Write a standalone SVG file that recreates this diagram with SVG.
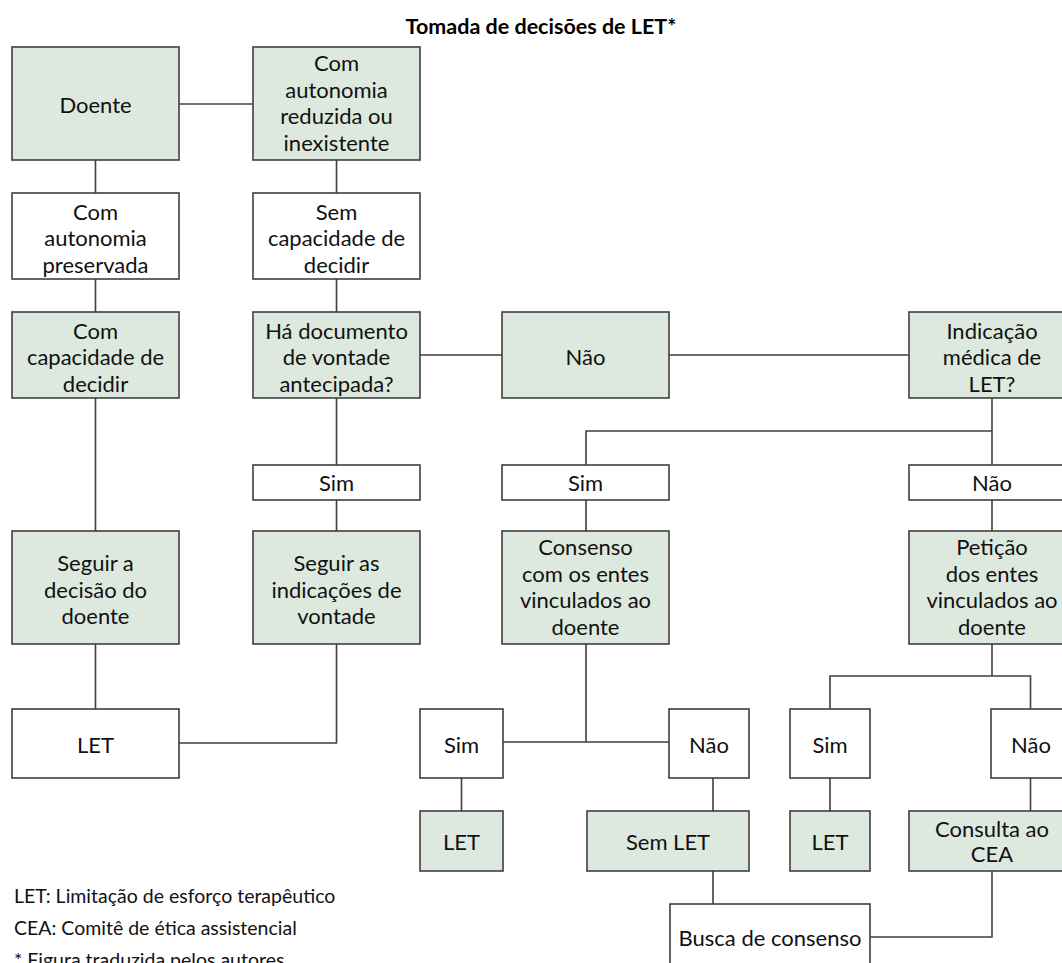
<svg xmlns="http://www.w3.org/2000/svg" width="1062" height="963" viewBox="0 0 1062 963">
<style>
.b{stroke:#3f3f3f;stroke-width:1.6;}
.g{fill:#dde9df;}
.w{fill:#ffffff;}
.t{font-family:Lato,"Liberation Sans",sans-serif;font-size:22px;fill:#111;text-anchor:middle;}
.c{stroke:#3f3f3f;stroke-width:1.6;fill:none;}
.title{font-family:Lato,"Liberation Sans",sans-serif;font-size:21.5px;font-weight:bold;fill:#000;text-anchor:middle;}
.note{font-family:Lato,"Liberation Sans",sans-serif;font-size:19.5px;fill:#111;}
</style>
<rect x="0" y="0" width="1062" height="963" fill="#ffffff"/>
<text class="title" x="541" y="34">Tomada de decisões de LET*</text>
<g id="connectors">
<path class="c" d="M179 104H253"/>
<path class="c" d="M95.5 160V193M95.5 279V312M95.5 398V531M95.5 644V709"/>
<path class="c" d="M336.5 160V193M336.5 279V312M336.5 398V465M336.5 500V531M336.5 644V743H179"/>
<path class="c" d="M420 355H502M669 355H909"/>
<path class="c" d="M992 398V465M992 431H586V465M586 500V531M992 500V531"/>
<path class="c" d="M586 644V742M503 742H669"/>
<path class="c" d="M461.5 778V811M713 778V811M713 871V904"/>
<path class="c" d="M992 644V676M830 709V676H1030.5V709M830 778V811M1030.5 778V811"/>
<path class="c" d="M992 871V937H870"/>
</g>
<g id="n1"><rect class="b g" x="12" y="47" width="167" height="113"/><text class="t" x="95.5" y="113">Doente</text></g>
<g id="n2"><rect class="b g" x="253" y="47" width="167" height="113"/><text class="t" x="336.5"><tspan x="336.5" y="71">Com</tspan><tspan x="336.5" y="97.5">autonomia</tspan><tspan x="336.5" y="124">reduzida ou</tspan><tspan x="336.5" y="150.5">inexistente</tspan></text></g>
<g id="n3"><rect class="b w" x="12" y="193" width="167" height="86"/><text class="t"><tspan x="95.5" y="220">Com</tspan><tspan x="95.5" y="246">autonomia</tspan><tspan x="95.5" y="272.5">preservada</tspan></text></g>
<g id="n4"><rect class="b w" x="253" y="193" width="167" height="86"/><text class="t"><tspan x="336.5" y="220">Sem</tspan><tspan x="336.5" y="246">capacidade de</tspan><tspan x="336.5" y="272.5">decidir</tspan></text></g>
<g id="n5"><rect class="b g" x="12" y="312" width="167" height="86"/><text class="t"><tspan x="95.5" y="339">Com</tspan><tspan x="95.5" y="365">capacidade de</tspan><tspan x="95.5" y="391.5">decidir</tspan></text></g>
<g id="n6"><rect class="b g" x="253" y="312" width="167" height="86"/><text class="t"><tspan x="336.5" y="339">Há documento</tspan><tspan x="336.5" y="365">de vontade</tspan><tspan x="336.5" y="391.5">antecipada?</tspan></text></g>
<g id="n7"><rect class="b g" x="502" y="312" width="167" height="86"/><text class="t" x="585.5" y="365">Não</text></g>
<g id="n8"><rect class="b g" x="909" y="312" width="167" height="86"/><text class="t"><tspan x="992" y="339">Indicação</tspan><tspan x="992" y="365">médica de</tspan><tspan x="992" y="391.5">LET?</tspan></text></g>
<g id="n9"><rect class="b w" x="253" y="465" width="167" height="35"/><text class="t" x="336.5" y="491">Sim</text></g>
<g id="n10"><rect class="b w" x="502" y="465" width="167" height="35"/><text class="t" x="585.5" y="491">Sim</text></g>
<g id="n11"><rect class="b w" x="909" y="465" width="167" height="35"/><text class="t" x="992" y="491">Não</text></g>
<g id="n12"><rect class="b g" x="12" y="531" width="167" height="113"/><text class="t"><tspan x="95.5" y="571">Seguir a</tspan><tspan x="95.5" y="597.5">decisão do</tspan><tspan x="95.5" y="623.5">doente</tspan></text></g>
<g id="n13"><rect class="b g" x="253" y="531" width="167" height="113"/><text class="t"><tspan x="336.5" y="571">Seguir as</tspan><tspan x="336.5" y="597.5">indicações de</tspan><tspan x="336.5" y="623.5">vontade</tspan></text></g>
<g id="n14"><rect class="b g" x="502" y="531" width="167" height="113"/><text class="t"><tspan x="585.5" y="555">Consenso</tspan><tspan x="585.5" y="581.5">com os entes</tspan><tspan x="585.5" y="608">vinculados ao</tspan><tspan x="585.5" y="634.5">doente</tspan></text></g>
<g id="n15"><rect class="b g" x="909" y="531" width="167" height="113"/><text class="t"><tspan x="992" y="555">Petição</tspan><tspan x="992" y="581.5">dos entes</tspan><tspan x="992" y="608">vinculados ao</tspan><tspan x="992" y="634.5">doente</tspan></text></g>
<g id="n16"><rect class="b w" x="12" y="709" width="167" height="69"/><text class="t" x="95.5" y="753">LET</text></g>
<g id="n17"><rect class="b w" x="420" y="709" width="83" height="69"/><text class="t" x="461.5" y="753">Sim</text></g>
<g id="n18"><rect class="b w" x="669" y="709" width="80" height="69"/><text class="t" x="709" y="753">Não</text></g>
<g id="n19"><rect class="b w" x="790" y="709" width="80" height="69"/><text class="t" x="830" y="753">Sim</text></g>
<g id="n20"><rect class="b w" x="991" y="709" width="80" height="69"/><text class="t" x="1031" y="753">Não</text></g>
<g id="n21"><rect class="b g" x="420" y="811" width="83" height="60"/><text class="t" x="461.5" y="850">LET</text></g>
<g id="n22"><rect class="b g" x="587" y="811" width="162" height="60"/><text class="t" x="668" y="850">Sem LET</text></g>
<g id="n23"><rect class="b g" x="790" y="811" width="80" height="60"/><text class="t" x="830" y="850">LET</text></g>
<g id="n24"><rect class="b g" x="909" y="811" width="167" height="60"/><text class="t"><tspan x="992" y="837">Consulta ao</tspan><tspan x="992" y="862">CEA</tspan></text></g>
<g id="n25"><rect class="b w" x="670" y="904" width="200" height="80"/><text class="t" x="770" y="946">Busca de consenso</text></g>
<g id="legend">
<text class="note" x="14" y="903">LET: Limitação de esforço terapêutico</text>
<text class="note" x="14" y="935">CEA: Comitê de ética assistencial</text>
<text class="note" x="14" y="967">* Figura traduzida pelos autores</text>
</g>
</svg>
